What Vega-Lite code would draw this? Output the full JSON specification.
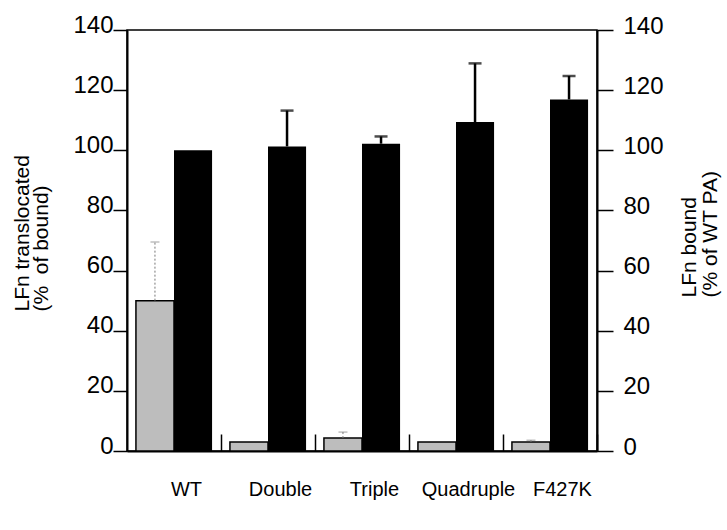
{
  "$schema": "https://vega.github.io/schema/vega-lite/v6.json",
  "width": 470,
  "height": 421,
  "autosize": "none",
  "padding": {"left": 127, "top": 30, "right": 130, "bottom": 79},
  "background": "white",
  "config": {
    "font": "Liberation Sans",
    "view": {"stroke": "black", "strokeWidth": 1.5},
    "axis": {"domainColor": "black", "tickColor": "black", "labelColor": "black", "titleColor": "black", "grid": false, "labelFont": "Liberation Sans", "titleFont": "Liberation Sans", "titleFontWeight": "normal"}
  },
  "data": {
    "values": [
      {"group": "WT", "series": "translocated", "value": 50, "upper": 69.5},
      {"group": "WT", "series": "bound", "value": 100, "upper": null},
      {"group": "Double", "series": "translocated", "value": 3, "upper": null},
      {"group": "Double", "series": "bound", "value": 101.3, "upper": 113.2},
      {"group": "Triple", "series": "translocated", "value": 4.3, "upper": 6.3},
      {"group": "Triple", "series": "bound", "value": 102.2, "upper": 104.6},
      {"group": "Quadruple", "series": "translocated", "value": 3, "upper": null},
      {"group": "Quadruple", "series": "bound", "value": 109.4, "upper": 128.9},
      {"group": "F427K", "series": "translocated", "value": 3, "upper": 3.6},
      {"group": "F427K", "series": "bound", "value": 116.9, "upper": 124.7}
    ]
  },
  "encoding": {
    "x": {
      "field": "group", "type": "nominal",
      "sort": ["WT", "Double", "Triple", "Quadruple", "F427K"],
      "scale": {"paddingInner": 0.19, "paddingOuter": 0.095},
      "axis": {"title": null, "labelAngle": 0, "labelFontSize": 20, "labelPadding": 45, "tickOffset": 47, "labelOffset": -35, "tickSize": -17, "tickWidth": 1.5, "domainWidth": 2}
    },
    "xOffset": {"field": "series", "type": "nominal", "scale": {"domain": ["translocated", "bound"], "paddingInner": 0, "paddingOuter": 0}}
  },
  "layer": [
    {
      "transform": [{"filter": "datum.series == 'translocated'"}],
      "encoding": {
        "y": {"field": "value", "type": "quantitative",
          "scale": {"domain": [0, 140], "nice": false},
          "axis": {"orient": "left", "values": [0, 20, 40, 60, 80, 100, 120, 140], "title": ["LFn translocated", "(%\u00a0 of bound)"], "titleFontSize": 21, "titleAngle": -90, "titleAlign": "left", "titleBaseline": "alphabetic", "titleX": -99, "titleY": 281, "titleLineHeight": 19, "labelFontSize": 24, "labelBaseline": "alphabetic", "labelOffset": 2, "labelPadding": 0, "tickSize": 14, "tickWidth": 1.5, "domainWidth": 2}}
      },
      "layer": [
        {"mark": {"type": "bar", "fill": "#bdbdbd", "stroke": "black", "strokeWidth": 1.5}},
        {"transform": [{"filter": "datum.upper != null"}], "mark": {"type": "rule", "color": "#777", "strokeWidth": 1, "strokeDash": [2, 2]}, "encoding": {"y2": {"field": "upper"}}},
        {"transform": [{"filter": "datum.upper != null"}], "mark": {"type": "tick", "color": "#777", "thickness": 1, "size": 9}, "encoding": {"y": {"field": "upper", "type": "quantitative"}}}
      ]
    },
    {
      "transform": [{"filter": "datum.series == 'bound'"}],
      "encoding": {
        "y": {"field": "value", "type": "quantitative",
          "scale": {"domain": [0, 140], "nice": false},
          "axis": {"orient": "right", "values": [0, 20, 40, 60, 80, 100, 120, 140], "title": ["LFn bound", "(% of WT PA)"], "titleFontSize": 21, "titleAngle": -90, "titleAlign": "left", "titleBaseline": "alphabetic", "titleX": 98, "titleY": 267, "titleLineHeight": 21, "labelFontSize": 24, "labelBaseline": "alphabetic", "labelOffset": 3, "labelPadding": 10, "tickSize": 16, "tickWidth": 1.5, "domainWidth": 2}}
      },
      "layer": [
        {"mark": {"type": "bar", "fill": "black"}},
        {"transform": [{"filter": "datum.upper != null"}], "mark": {"type": "rule", "color": "black", "strokeWidth": 2.5}, "encoding": {"y2": {"field": "upper"}}},
        {"transform": [{"filter": "datum.upper != null"}], "mark": {"type": "tick", "color": "black", "thickness": 2.5, "size": 13}, "encoding": {"y": {"field": "upper", "type": "quantitative"}}}
      ]
    }
  ],
  "resolve": {"scale": {"y": "independent"}}
}
